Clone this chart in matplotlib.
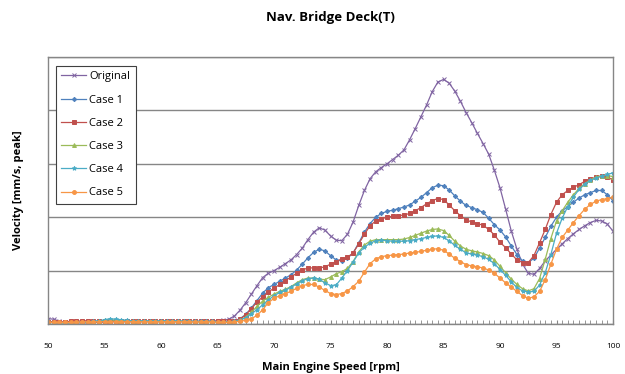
import numpy as np
import matplotlib
matplotlib.use('Agg')
import matplotlib.pyplot as plt
from matplotlib.ticker import MultipleLocator, NullFormatter

plt.rcParams['font.family'] = ['Open Sans', 'DejaVu Sans']

rpm = np.arange(50, 100.5, 0.5)

# low-speed part, 50 .. 65.5 rpm
low_original = [0.10, 0.09, 0.05, 0.03, 0.02, 0.02, 0.02, 0.02, 0.03, 0.03, 0.03, 0.04, 0.04, 0.04, 0.04, 0.04,
                0.04, 0.04, 0.04, 0.04, 0.04, 0.04, 0.04, 0.04, 0.04, 0.04, 0.04, 0.04, 0.05, 0.05, 0.06, 0.07]
low_case1 = [0.05, 0.04, 0.03, 0.03, 0.03, 0.04, 0.04, 0.04, 0.05, 0.05, 0.05, 0.06, 0.06, 0.05, 0.05, 0.05,
             0.05, 0.05, 0.05, 0.05, 0.05, 0.05, 0.05, 0.05, 0.05, 0.05, 0.05, 0.05, 0.05, 0.05, 0.05, 0.05]
low_case2 = [0.04, 0.04, 0.03, 0.04, 0.05, 0.05, 0.06, 0.06, 0.05, 0.05, 0.05, 0.05, 0.05, 0.05, 0.05, 0.05,
             0.05, 0.05, 0.05, 0.05, 0.05, 0.05, 0.05, 0.05, 0.05, 0.05, 0.05, 0.05, 0.05, 0.05, 0.05, 0.05]
low_case3 = [0.03, 0.03, 0.02, 0.02, 0.02, 0.03, 0.03, 0.03, 0.04, 0.05, 0.07, 0.08, 0.07, 0.06, 0.06, 0.05,
             0.05, 0.05, 0.05, 0.05, 0.05, 0.05, 0.05, 0.05, 0.05, 0.05, 0.04, 0.04, 0.04, 0.04, 0.04, 0.04]
low_case4 = [0.03, 0.02, 0.02, 0.02, 0.02, 0.03, 0.03, 0.04, 0.05, 0.06, 0.08, 0.10, 0.09, 0.08, 0.07, 0.06,
             0.06, 0.06, 0.06, 0.06, 0.06, 0.06, 0.06, 0.06, 0.05, 0.05, 0.05, 0.05, 0.05, 0.05, 0.04, 0.04]
low_case5 = [0.03, 0.03, 0.03, 0.03, 0.03, 0.03, 0.04, 0.04, 0.04, 0.04, 0.04, 0.04, 0.04, 0.04, 0.04, 0.04,
             0.04, 0.04, 0.04, 0.04, 0.04, 0.04, 0.04, 0.04, 0.04, 0.04, 0.04, 0.04, 0.04, 0.04, 0.03, 0.03]

# 66 .. 100 rpm
high_original = [0.09, 0.15, 0.26, 0.40, 0.56, 0.72, 0.87, 0.95, 1.00, 1.06, 1.13, 1.20, 1.30, 1.42, 1.58, 1.72,
                 1.80, 1.76, 1.65, 1.57, 1.56, 1.68, 1.91, 2.22, 2.50, 2.72, 2.85, 2.93, 3.00, 3.08, 3.16, 3.26,
                 3.45, 3.66, 3.88, 4.10, 4.35, 4.53, 4.58, 4.51, 4.36, 4.17, 3.96, 3.77, 3.57, 3.38, 3.18, 2.88,
                 2.55, 2.15, 1.74, 1.40, 1.12, 0.95, 0.93, 1.04, 1.18, 1.29, 1.40, 1.50, 1.60, 1.69, 1.77, 1.84,
                 1.90, 1.94, 1.93, 1.87, 1.74]
high_case1 = [0.05, 0.06, 0.10, 0.18, 0.30, 0.44, 0.58, 0.68, 0.74, 0.80, 0.86, 0.92, 1.01, 1.12, 1.24, 1.34,
              1.40, 1.37, 1.28, 1.20, 1.18, 1.23, 1.33, 1.52, 1.72, 1.88, 2.00, 2.07, 2.11, 2.13, 2.16, 2.19,
              2.23, 2.30, 2.37, 2.46, 2.55, 2.60, 2.59, 2.51, 2.40, 2.30, 2.22, 2.18, 2.14, 2.09, 1.98, 1.86,
              1.76, 1.63, 1.46, 1.30, 1.18, 1.15, 1.23, 1.42, 1.62, 1.83, 2.00, 2.12, 2.20, 2.28, 2.36, 2.42,
              2.46, 2.50, 2.50, 2.42, 2.31]
high_case2 = [0.05, 0.06, 0.09, 0.17, 0.29, 0.41, 0.51, 0.60, 0.67, 0.74, 0.81, 0.88, 0.95, 1.01, 1.05, 1.05,
              1.05, 1.07, 1.12, 1.17, 1.22, 1.25, 1.33, 1.50, 1.68, 1.84, 1.93, 1.97, 2.00, 2.02, 2.03, 2.04,
              2.07, 2.12, 2.18, 2.25, 2.31, 2.35, 2.33, 2.23, 2.12, 2.03, 1.95, 1.91, 1.88, 1.85, 1.77, 1.67,
              1.53, 1.43, 1.31, 1.20, 1.15, 1.15, 1.28, 1.52, 1.77, 2.05, 2.28, 2.42, 2.50, 2.56, 2.61, 2.67,
              2.71, 2.75, 2.77, 2.76, 2.69]
high_case3 = [0.04, 0.05, 0.07, 0.13, 0.22, 0.33, 0.43, 0.50, 0.56, 0.61, 0.65, 0.70, 0.77, 0.83, 0.86, 0.86,
              0.84, 0.83, 0.88, 0.94, 0.98, 1.04, 1.17, 1.35, 1.48, 1.55, 1.58, 1.58, 1.58, 1.58, 1.58, 1.59,
              1.62, 1.66, 1.70, 1.74, 1.77, 1.78, 1.75, 1.66, 1.55, 1.46, 1.40, 1.37, 1.35, 1.32, 1.28, 1.20,
              1.08, 0.96, 0.84, 0.74, 0.66, 0.62, 0.66, 0.85, 1.21, 1.60, 1.93, 2.12, 2.28, 2.42, 2.54, 2.63,
              2.70, 2.75, 2.78, 2.78, 2.76]
high_case4 = [0.04, 0.05, 0.07, 0.12, 0.19, 0.27, 0.36, 0.45, 0.53, 0.59, 0.63, 0.69, 0.75, 0.81, 0.85, 0.86,
              0.84, 0.77, 0.72, 0.73, 0.86, 1.00, 1.16, 1.33, 1.44, 1.51, 1.56, 1.57, 1.56, 1.55, 1.55, 1.55,
              1.56, 1.58, 1.60, 1.62, 1.64, 1.65, 1.62, 1.56, 1.47, 1.40, 1.33, 1.31, 1.29, 1.26, 1.21, 1.13,
              1.02, 0.91, 0.79, 0.68, 0.62, 0.60, 0.61, 0.73, 0.96, 1.30, 1.70, 1.98, 2.20, 2.38, 2.52, 2.62,
              2.69, 2.73, 2.77, 2.80, 2.83]
high_case5 = [0.03, 0.04, 0.05, 0.07, 0.10, 0.16, 0.27, 0.40, 0.48, 0.53, 0.57, 0.61, 0.67, 0.72, 0.74, 0.74,
              0.69, 0.63, 0.57, 0.55, 0.57, 0.62, 0.70, 0.80, 0.97, 1.13, 1.22, 1.26, 1.28, 1.29, 1.30, 1.31,
              1.33, 1.34, 1.36, 1.38, 1.40, 1.41, 1.38, 1.31, 1.23, 1.17, 1.11, 1.09, 1.07, 1.05, 1.01, 0.95,
              0.86, 0.77, 0.69, 0.61, 0.53, 0.48, 0.51, 0.61, 0.83, 1.12, 1.40, 1.62, 1.76, 1.90, 2.03, 2.15,
              2.24, 2.30, 2.33, 2.35, 2.37]

labels = ['Original', 'Case 1', 'Case 2', 'Case 3', 'Case 4', 'Case 5']
series = [low_original + high_original, low_case1 + high_case1, low_case2 + high_case2,
          low_case3 + high_case3, low_case4 + high_case4, low_case5 + high_case5]
colors = ['#8064A2', '#4F81BD', '#C0504D', '#9BBB59', '#4BACC6', '#F79646']
markers = ['x', 'D', 's', '^', '*', 'o']
msizes = [3.0, 2.2, 2.8, 2.8, 3.2, 2.8]

fig = plt.figure(figsize=(6.25, 3.74), dpi=100)
ax = fig.add_axes([0.0768, 0.1337, 0.904, 0.7139])

for vals, lab, c, m, ms in zip(series, labels, colors, markers, msizes):
    ax.plot(rpm, vals, color=c, marker=m, ms=ms, mew=0.7, lw=0.9, label=lab)

ax.set_xlim(50, 100)
ax.set_ylim(0, 5)
ax.xaxis.set_major_locator(MultipleLocator(5))
ax.xaxis.set_minor_locator(MultipleLocator(0.5))
ax.yaxis.set_major_locator(MultipleLocator(1))
ax.yaxis.set_major_formatter(NullFormatter())
ax.tick_params(axis='y', length=0)
ax.tick_params(axis='x', which='both', direction='in', length=3, color='#868686', labelsize=6, pad=14)
ax.grid(axis='y', color='#868686', lw=1.0)
ax.set_axisbelow(True)
for sp in ax.spines.values():
    sp.set_color('#868686')
    sp.set_linewidth(1.0)

ax.set_title('Nav. Bridge Deck(T)', fontsize=9.5, fontweight='bold', pad=26)
ax.set_xlabel('Main Engine Speed [rpm]', fontsize=8, fontweight='bold', labelpad=8)
ax.set_ylabel('Velocity [mm/s, peak]', fontsize=8, fontweight='bold', labelpad=14)

leg = ax.legend(loc='upper left', bbox_to_anchor=(0.004, 0.988), fontsize=8, fancybox=False,
                framealpha=1, edgecolor='#404040', labelspacing=1.1, handlelength=2.2,
                handletextpad=0.3, borderpad=0.5)
leg.get_frame().set_linewidth(0.8)

fig.savefig('out.png', dpi=100)
